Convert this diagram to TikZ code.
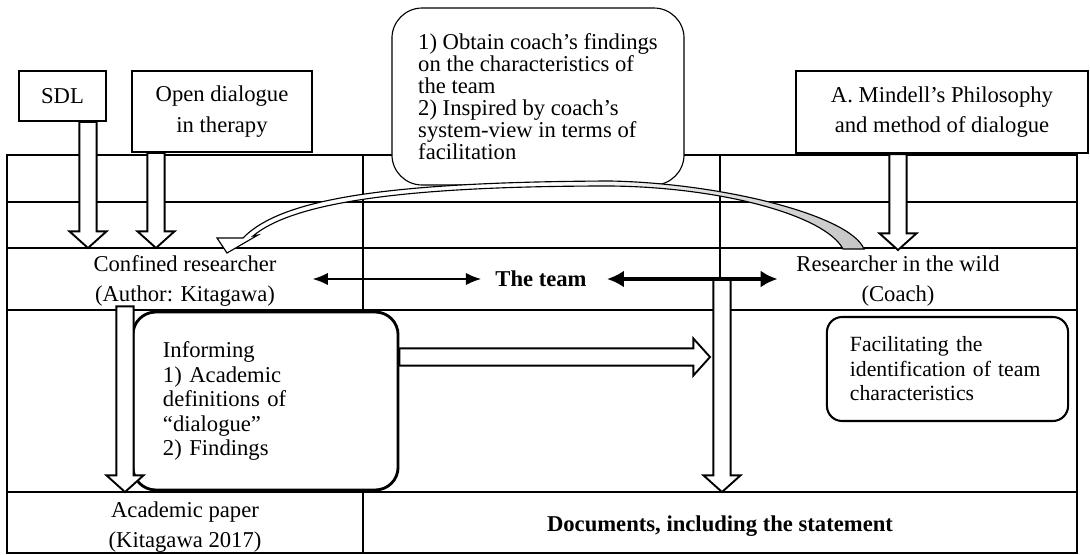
\documentclass[tikz,border=0pt]{standalone}
\usepackage{fontspec}
\setmainfont{Liberation Serif}
\usetikzlibrary{calc, arrows.meta}

% hollow block arrow from #2 to the tip #3
\newcommand{\blockarrow}[3][]{%
  \coordinate (ba-s) at (#2);
  \coordinate (ba-t) at (#3);
  \coordinate (ba-b) at ($(ba-t)!8.8pt!(ba-s)$);
  \filldraw [blockarrow, #1] ($(ba-s)!4.6pt!90:(ba-t)$) -- ($(ba-b)!4.6pt!90:(ba-t)$)
    -- ($(ba-b)!9.8pt!90:(ba-t)$) -- (ba-t) -- ($(ba-b)!9.8pt!-90:(ba-t)$)
    -- ($(ba-b)!4.6pt!-90:(ba-t)$) -- ($(ba-s)!4.6pt!-90:(ba-t)$) -- cycle;
}

\tikzset{
  tableline/.style={line width=1pt},
  srcbox/.style={draw, line width=1.1pt, align=center, inner sep=0pt,
    font=\fontsize{12}{16}\selectfont},
  celltext/.style={align=center, inner sep=0pt,
    font=\fontsize{12}{15.5}\selectfont},
  boldtext/.style={celltext, font=\bfseries\fontsize{12}{15.5}\selectfont},
  roundbox/.style={draw, fill=white, rounded corners=#1, align=left, inner ysep=0pt},
  blockarrow/.style={draw=black, fill=white, line width=1pt, line join=miter},
  curvearrow/.style={draw=black, line width=0.6pt, left color=white,
    right color=gray!45, middle color=white},
  teamlink/.style={<->, >={Latex[length=8pt,width=6.5pt]}, line width=0.8pt},
  teamlinkbold/.style={<->, >={Latex[length=9pt,width=9pt]}, line width=2pt}
}

\begin{document}
\begin{tikzpicture}[x=0.53pt, y=-0.53pt]
\useasboundingbox (0,0) rectangle (1090,555);
% The table
\draw [tableline] (7,155) rectangle (1077,553);
\foreach \y in {202,248,310,492} {
  \draw [tableline] (7,\y) -- (1077,\y);
}
\draw [tableline] (363,155) -- (363,553);
\draw [tableline] (720,155) -- (720,492);
% Sources above the table
\node [srcbox, minimum width=46.1pt, minimum height=26.5pt] (sdl) at (62.5,96) {SDL};
\node [srcbox, minimum width=95.4pt, minimum height=42.9pt] (opendlg) at (222,111.5)
  {Open dialogue\\in therapy};
\node [srcbox, minimum width=154.8pt, minimum height=43.5pt] (mindell) at (942,112)
  {A. Mindell’s Philosophy\\and method of dialogue};
% Rounded boxes
\node [roundbox=16pt, line width=0.6pt, minimum width=154.8pt, minimum height=93.8pt,
  font=\fontsize{12}{11.6}\selectfont] (findings) at (538,96.5)
  {1) Obtain coach’s findings\\on the characteristics of\\the team\\2) Inspired by coach’s\\system-view in terms of\\facilitation};
\node [roundbox=12pt, line width=1.5pt, minimum height=94.3pt, text width=108.7pt,
  inner xsep=15.9pt, font=\fontsize{12}{13}\selectfont] (informing) at (265.5,401)
  {Informing\\1) Academic\\definitions of\\“dialogue”\\2) Findings};
\node [roundbox=8pt, line width=1.1pt, minimum height=55.1pt, text width=103.4pt,
  inner xsep=12.2pt, font=\fontsize{11.5}{13}\selectfont] (facil) at (947.5,369)
  {Facilitating the\\identification of team\\characteristics};
% Cell texts
\node [celltext] (confined) at (185,281) {Confined researcher\\(Author: Kitagawa)};
\node [boldtext] (team) at (541,279) {The team};
\node [celltext] (wild) at (898,281) {Researcher in the wild\\(Coach)};
\node [celltext] (paper) at (185,527) {Academic paper\\(Kitagawa 2017)};
\node [boldtext] (docs) at (720,526) {Documents, including the statement};
% Tips of the block arrows
\coordinate (sdl-tip) at (88,248);
\coordinate (opendlg-tip) at (156,248);
\coordinate (wild-tip) at (898,250);
\coordinate (paper-tip) at (125,492);
\coordinate (docs-tip) at (722,492);
\coordinate (inf-tip) at (710,357);
\blockarrow{sdl.south -| sdl-tip}{sdl-tip}
\blockarrow{opendlg.south -| opendlg-tip}{opendlg-tip}
\blockarrow{mindell.south -| wild-tip}{wild-tip}
\blockarrow{confined.south -| paper-tip}{paper-tip}
\blockarrow{informing.east |- inf-tip}{inf-tip}
\blockarrow{team.east -| docs-tip}{docs-tip}
% The curved arrow from the coach back to the author
\shadedraw [curvearrow] (243,238) .. controls (280,200) and (380,182) .. (610,181)
  .. controls (720,183) and (850,215) .. (864,249) -- (843,249)
  .. controls (825,215) and (720,187) .. (610,186)
  .. controls (390,186) and (290,205) .. (253,236)
  -- (258,235) -- (227,253) -- (217,238) -- cycle;
% Links with the team
\draw [teamlink, shorten <=19pt, shorten >=7.4pt] (confined.east |- team.west) -- (team.west);
\draw [teamlinkbold, shorten <=10.6pt, shorten >=9.8pt] (team.east) -- (wild.west |- team.east);
\end{tikzpicture}
\end{document}
